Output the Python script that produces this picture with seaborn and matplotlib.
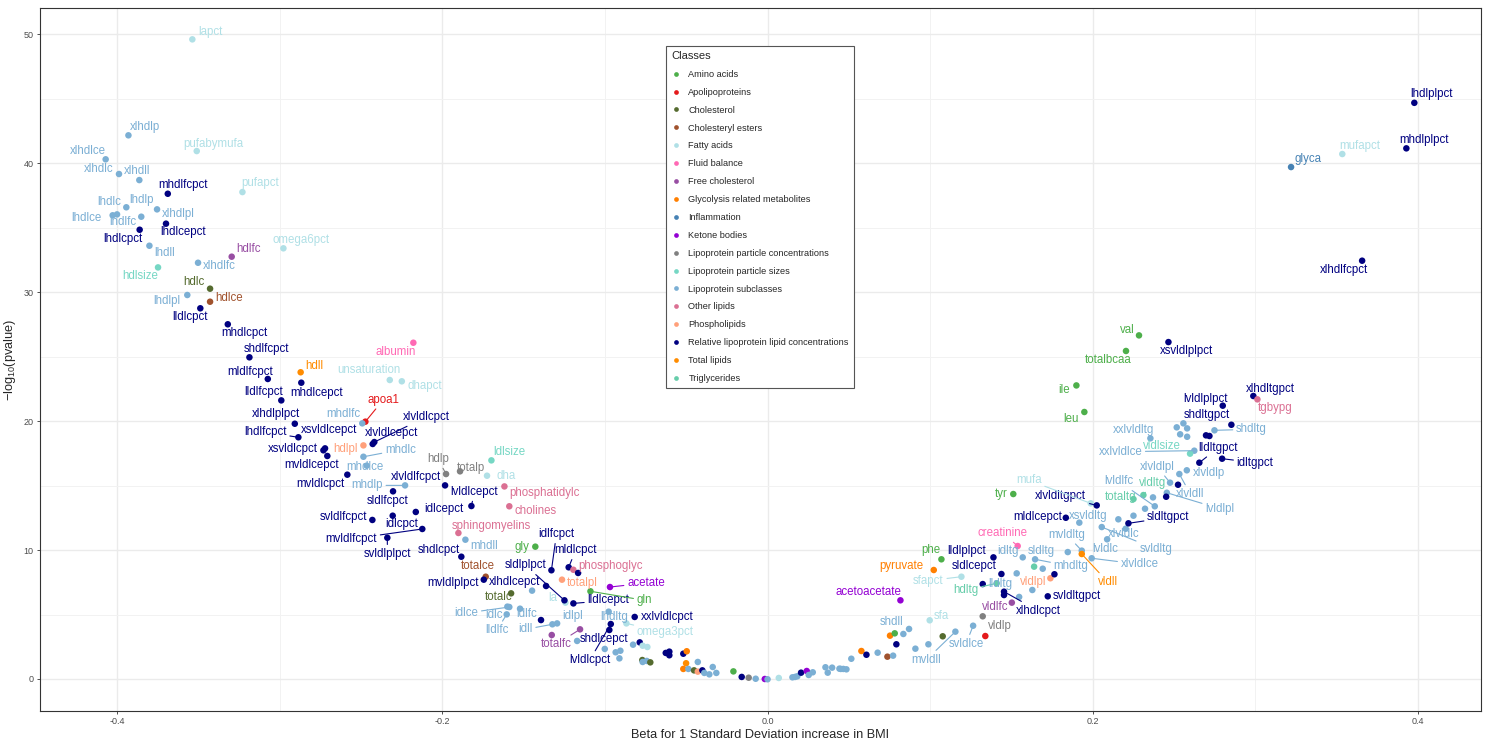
import matplotlib
matplotlib.use("Agg")
import matplotlib.pyplot as plt
from matplotlib.lines import Line2D
import seaborn as sns
import pandas as pd

# legend classes (ggplot order) and colours
class_order = ["Amino acids", "Apolipoproteins", "Cholesterol", "Cholesteryl esters",
               "Fatty acids", "Fluid balance", "Free cholesterol",
               "Glycolysis related metabolites", "Inflammation", "Ketone bodies",
               "Lipoprotein particle concentrations", "Lipoprotein particle sizes",
               "Lipoprotein subclasses", "Other lipids", "Phospholipids",
               "Relative lipoprotein lipid concentrations", "Total lipids", "Triglycerides"]
class_codes = ["AA", "APO", "CHOL", "CE", "FA", "FB", "FC", "GLY", "INF", "KET",
               "PC", "SIZE", "SUB", "OL", "PL", "REL", "TL", "TG"]
class_colors = ["#4DAF4A", "#E41A1C", "#556B2F", "#A0522D", "#B0E0E6", "#FF69B4",
                "#984EA3", "#FF7F00", "#4682B4", "#9400D3", "#808080", "#76D7C4",
                "#7BAFD4", "#DB7093", "#FFA07A", "#000080", "#FF8C00", "#66CDAA"]

# labelled metabolites
lab_names = [
    "lapct", "xlhdlp", "pufabymufa", "xlhdlce", "xlhdlc", "xlhdll", "mhdlfcpct", "pufapct", "lhdlc", "lhdlp",
    "xlhdlpl", "lhdlce", "lhdlfc", "lhdlcepct", "lhdlcpct", "lhdll", "omega6pct", "hdlfc", "xlhdlfc", "hdlsize",
    "hdlc", "lhdlpl", "hdlce", "lldlcpct", "mhdlcpct", "shdlfcpct", "hdll", "mldlfcpct", "mhdlcepct", "lldlfcpct",
    "xlhdlplpct", "lhdlfcpct", "xsvldlcpct", "mvldlcepct", "xsvldlcepct", "albumin", "unsaturation", "dhapct", "apoa1", "mhdlfc",
    "xlvldlcpct", "xlvldlcepct", "hdlpl", "mhdlc", "mhdlce", "mvldlcpct", "mhdlp", "xlvldlfcpct", "sldlfcpct", "idlcpct",
    "idlcepct", "svldlfcpct", "mvldlfcpct", "svldlplpct", "lvldlcepct", "hdlp", "totalp", "ldlsize", "dha", "phosphatidylc",
    "cholines", "sphingomyelins", "mhdll", "shdlcpct", "gly", "totalce", "mvldlplpct", "idlfcpct", "mldlcpct", "phosphoglyc",
    "totalpl", "xlhdlcepct", "la", "sldlplpct", "lldlcepct", "totalc", "idlce", "idlc", "lldlfc", "idlfc",
    "idll", "idlpl", "totalfc", "lvldlcpct", "shdlcepct", "lhdltg", "xxlvldlcpct", "omega3pct", "acetate", "gln",
    "acetoacetate", "shdll", "sfa", "mvldll", "svldlce", "vldlp", "vldlfc", "xlhdlcpct", "svldltgpct", "vldlpl",
    "hdltg", "lldltg", "sldlcepct", "lldlplpct", "idltg", "creatinine", "sldltg", "mhdltg", "phe", "pyruvate",
    "sfapct", "tyr", "mldlcepct", "xsvldltg", "xlvldltgpct", "mufa", "mvldltg", "vldll", "xlvldlce", "lvldlc",
    "xlvldlc", "svldltg", "sldltgpct", "totaltg", "vldltg", "lvldlfc", "lvldlpl", "xlvldll", "xlvldlp", "xlvldlpl",
    "lldltgpct", "idltgpct", "xxlvldlce", "vldlsize", "xxlvldltg", "shdltg", "shdltgpct", "lvldlplpct", "xlhdltgpct", "tgbypg",
    "val", "xsvldlplpct", "totalbcaa", "ile", "leu", "lhdlplpct", "mhdlplpct", "mufapct", "glyca", "xlhdlfcpct",
]
lab_class = [
    "FA", "SUB", "FA", "SUB", "SUB", "SUB", "REL", "FA", "SUB", "SUB",
    "SUB", "SUB", "SUB", "REL", "REL", "SUB", "FA", "FC", "SUB", "SIZE",
    "CHOL", "SUB", "CE", "REL", "REL", "REL", "TL", "REL", "REL", "REL",
    "REL", "REL", "REL", "REL", "REL", "FB", "FA", "FA", "APO", "SUB",
    "REL", "REL", "PL", "SUB", "SUB", "REL", "SUB", "REL", "REL", "REL",
    "REL", "REL", "REL", "REL", "REL", "PC", "PC", "SIZE", "FA", "OL",
    "OL", "OL", "SUB", "REL", "AA", "CE", "REL", "REL", "REL", "OL",
    "PL", "REL", "FA", "REL", "REL", "CHOL", "SUB", "SUB", "SUB", "SUB",
    "SUB", "SUB", "FC", "REL", "REL", "SUB", "REL", "FA", "KET", "AA",
    "KET", "SUB", "FA", "SUB", "SUB", "PC", "FC", "REL", "REL", "PL",
    "TG", "SUB", "REL", "REL", "SUB", "FB", "SUB", "SUB", "AA", "GLY",
    "FA", "AA", "REL", "SUB", "REL", "FA", "SUB", "TL", "SUB", "SUB",
    "SUB", "SUB", "REL", "TG", "TG", "SUB", "SUB", "SUB", "SUB", "SUB",
    "REL", "REL", "SUB", "SIZE", "SUB", "SUB", "REL", "REL", "REL", "OL",
    "AA", "REL", "AA", "AA", "AA", "REL", "REL", "FA", "INF", "REL",
]
lab_beta = [
    -0.3537, -0.3930, -0.3510, -0.4070, -0.3988, -0.3863, -0.3688, -0.3229, -0.3943, -0.3851,
    -0.3754, -0.4027, -0.4000, -0.3699, -0.3861, -0.3801, -0.2977, -0.3295, -0.3502, -0.3748,
    -0.3428, -0.3568, -0.3428, -0.3488, -0.3319, -0.3186, -0.2871, -0.3073, -0.2867, -0.2990,
    -0.2907, -0.2885, -0.2731, -0.2707, -0.2721, -0.2178, -0.2323, -0.2249, -0.2473, -0.2492,
    -0.2418, -0.2428, -0.2485, -0.2485, -0.2465, -0.2584, -0.2229, -0.1983, -0.2303, -0.2305,
    -0.2163, -0.2430, -0.2123, -0.2338, -0.1821, -0.1977, -0.1891, -0.1698, -0.1725, -0.1618,
    -0.1588, -0.1901, -0.1858, -0.1883, -0.1428, -0.1733, -0.1745, -0.1329, -0.1223, -0.1194,
    -0.1264, -0.1362, -0.1243, -0.1249, -0.1194, -0.1577, -0.1588, -0.1600, -0.1604, -0.1522,
    -0.1323, -0.1294, -0.1153, -0.0964, -0.0973, -0.0977, -0.0817, -0.0868, -0.0969, -0.1089,
    0.0817, 0.0870, 0.0997, 0.1155, 0.1264, 0.1323, 0.1502, 0.1454, 0.1723, 0.1739,
    0.1409, 0.1532, 0.1438, 0.1389, 0.1569, 0.1538, 0.1846, 0.1645, 0.1069, 0.1022,
    0.1192, 0.1511, 0.1834, 0.1917, 0.2024, 0.1987, 0.1932, 0.1932, 0.1993, 0.2088,
    0.2202, 0.2055, 0.2219, 0.2250, 0.2311, 0.2381, 0.2455, 0.2532, 0.2578, 0.2475,
    0.2655, 0.2795, 0.2624, 0.2598, 0.2354, 0.2748, 0.2852, 0.2799, 0.2987, 0.3012,
    0.2284, 0.2465, 0.2204, 0.1899, 0.1948, 0.3977, 0.3928, 0.3534, 0.3219, 0.3656,
]
lab_logp = [
    49.59, 42.15, 40.93, 40.29, 39.15, 38.68, 37.62, 37.75, 36.57, 35.84,
    36.41, 35.95, 36.02, 35.30, 34.83, 33.59, 33.39, 32.74, 32.27, 31.91,
    30.26, 29.77, 29.25, 28.74, 27.50, 24.94, 23.78, 23.26, 22.97, 21.60,
    19.79, 18.74, 17.73, 17.29, 17.88, 26.07, 23.18, 23.08, 19.95, 19.82,
    18.37, 18.22, 18.11, 17.23, 16.54, 15.84, 15.01, 15.01, 14.55, 12.66,
    12.95, 12.33, 11.63, 10.95, 13.41, 15.89, 16.10, 16.95, 15.76, 14.93,
    13.39, 11.32, 10.80, 9.48, 10.26, 7.93, 7.70, 8.43, 8.66, 8.47,
    7.70, 7.21, 5.92, 6.10, 5.86, 6.64, 5.58, 5.61, 5.01, 5.45,
    4.24, 4.31, 3.85, 4.26, 3.80, 5.22, 4.81, 4.31, 7.13, 6.80,
    6.10, 3.88, 4.55, 3.67, 4.13, 4.86, 5.92, 6.77, 6.41, 7.81,
    7.42, 8.19, 8.14, 9.43, 9.43, 10.31, 9.84, 9.28, 9.28, 8.45,
    7.93, 14.34, 12.50, 12.12, 13.46, 13.62, 9.95, 9.69, 9.36, 10.83,
    11.65, 11.78, 12.07, 13.95, 14.26, 13.39, 14.44, 15.89, 16.18, 15.22,
    16.77, 17.08, 17.70, 17.47, 18.66, 19.28, 19.71, 21.19, 21.94, 21.68,
    26.64, 26.12, 25.43, 22.76, 20.70, 44.67, 41.14, 40.70, 39.69, 32.43,
]

# unlabelled metabolites
unl_beta = [
    -0.1448, -0.1165, -0.1393, -0.1327, -0.1171, -0.1001, -0.0934, -0.0905, -0.0911, -0.0827,
    -0.0786, -0.0768, -0.0739, -0.0770, -0.0743, -0.0721, -0.0768, -0.0626, -0.0604, -0.0604,
    -0.0518, -0.0497, -0.0501, -0.0518, -0.0487, -0.0452, -0.0429, -0.0429, -0.0401, -0.0389,
    -0.0358, -0.0337, -0.0315, -0.0210, -0.0159, -0.0116, -0.0073, -0.0017, 0.0000, 0.0069,
    0.0153, 0.0169, 0.0183, 0.0206, 0.0241, 0.0253, 0.0278, 0.0356, 0.0370, 0.0397,
    0.0442, 0.0450, 0.0466, 0.0485, 0.0515, 0.0577, 0.0608, 0.0677, 0.0737, 0.0772,
    0.0753, 0.0782, 0.0792, 0.0835, 0.0909, 0.0989, 0.1077, 0.1339, 0.1454, 0.1547,
    0.1628, 0.1323, 0.1764, 0.1639, 0.1692, 0.2321, 0.2250, 0.2157, 0.2370, 0.2524,
    0.2451, 0.2516, 0.2557, 0.2580, 0.2537, 0.2580, 0.2696, 0.2717,
]
unl_logp = [
    6.85, 8.22, 4.57, 3.41, 2.95, 2.33, 2.07, 2.19, 1.60, 2.66,
    2.84, 2.58, 2.48, 1.47, 1.40, 1.29, 1.32, 2.02, 2.12, 1.84,
    1.96, 2.15, 1.22, 0.78, 0.78, 0.67, 0.57, 1.32, 0.67, 0.47,
    0.36, 0.93, 0.47, 0.59, 0.16, 0.10, 0.02, 0.00, -0.02, 0.08,
    0.13, 0.16, 0.21, 0.49, 0.62, 0.31, 0.52, 0.91, 0.49, 0.88,
    0.80, 0.78, 0.78, 0.75, 1.57, 2.17, 1.88, 2.04, 1.73, 1.81,
    3.36, 3.54, 2.69, 3.49, 2.35, 2.69, 3.31, 3.33, 6.51, 6.36,
    6.90, 7.36, 8.12, 8.71, 8.55, 13.20, 12.66, 12.38, 14.08, 15.06,
    14.13, 19.51, 19.82, 19.43, 18.97, 18.78, 18.89, 18.84,
]
unl_class = [
    "SUB", "REL", "REL", "FC", "SUB", "SUB", "SUB", "SUB", "SUB", "SUB",
    "REL", "FA", "FA", "CHOL", "SUB", "CHOL", "SUB", "REL", "REL", "REL",
    "REL", "GLY", "TL", "GLY", "SUB", "CHOL", "PL", "SUB", "REL", "SUB",
    "SUB", "SUB", "SUB", "AA", "REL", "PC", "SUB", "KET", "SUB", "FA",
    "SUB", "SUB", "SUB", "REL", "KET", "SUB", "SUB", "SUB", "SUB", "SUB",
    "SUB", "SUB", "SUB", "SUB", "SUB", "GLY", "REL", "SUB", "CE", "SUB",
    "GLY", "AA", "REL", "SUB", "SUB", "SUB", "CHOL", "APO", "REL", "SUB",
    "SUB", "REL", "REL", "TG", "SUB", "SUB", "SUB", "SUB", "SUB", "REL",
    "REL", "SUB", "SUB", "SUB", "SUB", "SUB", "REL", "REL",
]

x_ticks = [-0.4, -0.2, 0.0, 0.2, 0.4]
x_tick_labels = ["-0.4", "-0.2", "0.0", "0.2", "0.4"]
y_ticks = [0, 10, 20, 30, 40, 50]

# repel-style label offsets in pixels (dx right, dy up)
label_offsets = {
    "lapct": (18, 7), "xlhdlp": (17, 8), "pufabymufa": (17, 7), "xlhdlce": (-18, 8), "xlhdlc": (-20, 5),
    "xlhdll": (-2, 9), "mhdlfcpct": (15, 9), "pufapct": (18, 9), "lhdlc": (-17, 5), "lhdlp": (0, 17),
    "xlhdlpl": (21, -5), "lhdlce": (-26, -3), "lhdlfc": (6, -8), "lhdlcepct": (17, -8), "lhdlcpct": (-17, -9),
    "lhdll": (15, -7), "omega6pct": (18, 8), "hdlfc": (17, 8), "xlhdlfc": (21, -3), "hdlsize": (-18, -9),
    "hdlc": (-16, 7), "lhdlpl": (-20, -6), "hdlce": (19, 4), "lldlcpct": (-10, -9), "mhdlcpct": (17, -9),
    "shdlfcpct": (17, 8), "hdll": (14, 6), "mldlfcpct": (-18, 7), "mhdlcepct": (15, -10), "lldlfcpct": (-18, 8),
    "xlhdlplpct": (-19, 10), "lhdlfcpct": (-33, 5), "xsvldlcpct": (-31, 1), "mvldlcepct": (-16, -9),
    "xsvldlcepct": (4, 18), "albumin": (-18, -9), "unsaturation": (-21, 10), "dhapct": (23, -5),
    "apoa1": (18, 22), "mhdlfc": (-19, 9), "xlvldlcpct": (52, 25), "xlvldlcepct": (19, 11), "hdlpl": (-18, -4),
    "mhdlc": (37, 7), "mhdlce": (-2, -1), "mvldlcpct": (-27, -9), "mhdlp": (-38, 0), "xlvldlfcpct": (-29, 8),
    "sldlfcpct": (-5, -10), "idlcpct": (9, -8), "idlcepct": (28, 3), "svldlfcpct": (-29, 3),
    "mvldlfcpct": (-71, -10), "svldlplpct": (0, -16), "lvldlcepct": (3, 14), "hdlp": (-8, 15), "totalp": (11, 3),
    "ldlsize": (18, 8), "dha": (19, 0), "phosphatidylc": (40, -7), "cholines": (26, -5), "sphingomyelins": (33, 7),
    "mhdll": (19, -6), "gly": (-13, 0), "shdlcpct": (-22, 7), "totalce": (-8, 11), "mvldlplpct": (-31, -3),
    "xlhdlcepct": (-31, 4), "idlfcpct": (5, 36), "mldlcpct": (7, 17), "phosphoglyc": (37, 4), "totalpl": (20, -3),
    "acetate": (36, 4), "sldlplpct": (-39, 35), "totalc": (-12, -4), "la": (-13, 5), "lldlcepct": (35, 3),
    "gln": (54, -9), "idlce": (-43, -6), "idlc": (-13, -8), "idlfc": (7, -5), "lldlfc": (-10, -16),
    "idll": (-27, -5), "idlpl": (16, 7), "totalfc": (-24, -15), "shdlcepct": (-5, -9), "lvldlcpct": (-21, -36),
    "lhdltg": (6, -5), "xxlvldlcpct": (33, 0), "omega3pct": (39, -9),
    "acetoacetate": (-32, 8), "shdll": (-17, 7), "sfa": (12, 4), "mvldll": (-29, -28), "svldlce": (-7, -18),
    "vldlp": (17, -10), "vldlfc": (-17, -4), "xlhdlcpct": (34, -19), "svldltgpct": (29, 0), "vldlpl": (-17, -4),
    "hdltg": (-31, -7), "lldltg": (-16, -11), "sldlcepct": (-27, 8), "lldlplpct": (-27, 6), "idltg": (-15, 6),
    "creatinine": (-15, 13), "sldltg": (-26, 1), "mhdltg": (36, -7), "mvldltg": (-15, 16), "vldll": (26, -28),
    "phe": (-11, 9), "pyruvate": (-32, 4), "sfapct": (-33, -4), "tyr": (-12, 0), "mldlcepct": (-28, 1),
    "xsvldltg": (9, 7), "xlvldltgpct": (-36, 9), "mufa": (-62, 23), "xlvldlce": (48, -6), "lvldlc": (-2, -10),
    "xlvldlc": (-2, -5), "svldltg": (54, -22), "sldltgpct": (40, 6), "totaltg": (-13, 2), "vldltg": (9, 12),
    "lvldlfc": (-36, 25), "lvldlpl": (53, -16), "xlvldll": (11, -20), "xlvldlp": (22, -3), "xlvldlpl": (-13, 16),
    "lldltgpct": (19, 15), "idltgpct": (33, -4), "xxlvldlce": (-74, -1), "vldlsize": (-28, 8), "xxlvldltg": (-17, 8),
    "shdltg": (37, 1), "shdltgpct": (-25, 10), "lvldlplpct": (-17, 7), "xlhdltgpct": (17, 7), "tgbypg": (18, -9),
    "val": (-12, 5), "xsvldlplpct": (18, -9), "totalbcaa": (-18, -9), "ile": (-12, -5), "leu": (-13, -7),
    "lhdlplpct": (17, 9), "mhdlplpct": (18, 8), "mufapct": (17, 8), "glyca": (17, 8), "xlhdlfcpct": (-18, -9),
}
leader_lines = {
    "lhdlfcpct", "apoa1", "xlvldlcpct", "mhdlc", "mhdlp", "mvldlfcpct", "svldlplpct", "lvldlcepct", "hdlp",
    "idlfcpct", "mldlcpct", "acetate", "sldlplpct", "lldlcepct", "gln", "idlce", "lldlfc", "idll", "totalfc",
    "lvldlcpct", "omega3pct", "mvldll", "svldlce", "vldlp", "xlhdlcpct", "hdltg", "lldltg", "creatinine",
    "mhdltg", "mvldltg", "vldll", "sfapct", "xlvldltgpct", "mufa", "xlvldlce", "svldltg", "sldltgpct",
    "vldltg", "lvldlfc", "lvldlpl", "xlvldll", "xlvldlpl", "lldltgpct", "idltgpct", "xxlvldlce", "shdltg",
}

code_to_class = dict(zip(class_codes, class_order))
palette = dict(zip(class_order, class_colors))

df = pd.DataFrame({
    "name": lab_names + [""] * len(unl_beta),
    "beta": lab_beta + unl_beta,
    "logp": lab_logp + unl_logp,
    "code": lab_class + unl_class,
})
df["Classes"] = df["code"].map(code_to_class)

sns.set_style("white")
plt.rcParams["font.family"] = ["Liberation Sans", "DejaVu Sans"]
plt.rcParams["mathtext.fontset"] = "custom"
plt.rcParams["mathtext.rm"] = "Liberation Sans"
plt.rcParams["mathtext.it"] = "Liberation Sans:italic"

fig, ax = plt.subplots(figsize=(14.91, 7.42), dpi=100)
fig.subplots_adjust(left=0.0268, right=0.9933, bottom=0.0418, top=0.9892)

sns.scatterplot(data=df, x="beta", y="logp", hue="Classes", hue_order=class_order,
                palette=palette, s=22, linewidth=0, legend=False, ax=ax, zorder=3)

for _, r in df[df["name"] != ""].iterrows():
    dx, dy = label_offsets.get(r["name"], (0, 10))
    col = palette[r["Classes"]]
    arrow = None
    if r["name"] in leader_lines:
        arrow = dict(arrowstyle="-", color=col, lw=0.8, shrinkA=0, shrinkB=2)
    ax.annotate(r["name"], (r["beta"], r["logp"]), xytext=(dx, dy), textcoords="offset pixels",
                ha="center", va="center", fontsize=8.3, color=col, arrowprops=arrow, zorder=4)

ax.set_xlim(-0.4474, 0.4387)
ax.set_ylim(-2.48, 52.02)
ax.set_xticks(x_ticks, x_tick_labels)
ax.set_yticks(y_ticks)
ax.set_xticks([-0.3, -0.1, 0.1, 0.3], minor=True)
ax.set_yticks([5, 15, 25, 35, 45], minor=True)
ax.set_axisbelow(True)
ax.grid(True, which="major", color="#EBEBEB", lw=1.0)
ax.grid(True, which="minor", color="#F2F2F2", lw=0.7)
ax.tick_params(which="major", bottom=True, left=True, length=2.5, width=0.6, color="#333333",
               labelsize=6.5, labelcolor="#4D4D4D", pad=2)
ax.tick_params(which="minor", length=0)
for sp in ax.spines.values():
    sp.set_color("#333333")
    sp.set_linewidth(0.8)

ax.set_xlabel("Beta for 1 Standard Deviation increase in BMI", fontsize=9.2, labelpad=2)
ax.set_ylabel("$-$log$_{10}$(pvalue)", fontsize=9.2, labelpad=4)

handles = [Line2D([], [], marker="o", ls="", markersize=3.4, markeredgewidth=0,
                  markerfacecolor=palette[c]) for c in class_order]
leg = ax.legend(handles, class_order, title="Classes", loc="upper left",
                bbox_to_anchor=(0.4344, 0.946), fontsize=6.6, title_fontsize=8,
                frameon=True, fancybox=False, edgecolor="#555555", framealpha=1,
                labelspacing=0.97, handlelength=1.0, handletextpad=0.9,
                borderpad=0.55, borderaxespad=0, alignment="left")
leg.get_frame().set_linewidth(0.8)
leg.set_zorder(5)

fig.savefig("out.png", dpi=100)
